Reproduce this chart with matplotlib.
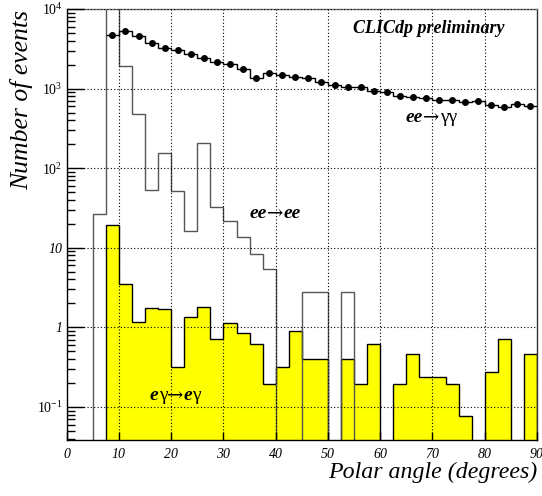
import numpy as np
import matplotlib
matplotlib.use('Agg')
import matplotlib.pyplot as plt
from matplotlib.ticker import FixedLocator, FixedFormatter, LogLocator, NullFormatter

plt.rcParams['font.family'] = 'Liberation Serif'
plt.rcParams['mathtext.fontset'] = 'custom'
plt.rcParams['mathtext.rm'] = 'Liberation Serif'
plt.rcParams['mathtext.it'] = 'Liberation Serif:italic'

# 36 bins of 2.5 degrees, 0 - 90
edges = np.linspace(0, 90, 37)

# ee -> ee (white histogram), 36 bins
ee_ee = [0, 0, 26.6, 30000, 1900, 473, 53, 157, 51, 16.4, 207, 32.8,
         21.9, 13.6, 8.24, 5.46, 0, 0, 2.79, 2.79, 0, 2.79, 0, 0,
         0, 0, 0, 0, 0, 0, 0, 0, 0, 0, 0, 0]

# e gamma -> e gamma (yellow histogram), 36 bins
eg_eg = [0, 0, 0, 19.4, 3.55, 1.17, 1.76, 1.69, 0.313, 1.36, 1.78, 0.708,
         1.14, 0.856, 0.624, 0.195, 0.313, 0.9, 0.398, 0.398, 0, 0.398, 0.195, 0.618,
         0, 0.195, 0.464, 0.237, 0.237, 0.195, 0.0763, 0, 0.274, 0.708, 0, 0.464]

# ee -> gamma gamma (points), bins from 7.5 to 90
ee_gg = [4680, 5360, 4600, 3790, 3280, 3010, 2710, 2410, 2175, 2030, 1778,
         1372, 1567, 1466, 1413, 1345, 1209, 1122, 1038, 1038, 944, 899,
         801, 790, 757, 714, 714, 688, 700, 613, 584, 649, 606]

xticks = [0, 10, 20, 30, 40, 50, 60, 70, 80, 90]
yticks = [0.1, 1, 10, 100, 1000, 10000]
ylabels = [r'$\mathit{10^{-1}}$', '1', '10', r'$\mathit{10^{2}}$',
           r'$\mathit{10^{3}}$', r'$\mathit{10^{4}}$']

W, H = 542, 496
fig = plt.figure(figsize=(W / 100, H / 100), dpi=100)
ax = fig.add_axes([66.7 / W, 1 - 440 / H, (537 - 66.7) / W, (440 - 9) / H])

floor = 1e-3
ax.stairs(np.clip(eg_eg, floor, None), edges, fill=True, color='#ffff00',
          baseline=floor, zorder=1)
ax.stairs(np.clip(eg_eg, floor, None), edges, color='black', lw=1.0,
          baseline=floor, zorder=1.5)
ax.stairs(np.clip(ee_ee, floor, None), edges, color='#555555', lw=1.0,
          baseline=floor, zorder=2)

gg_edges = edges[3:]
centers = 0.5 * (gg_edges[:-1] + gg_edges[1:])
ax.stairs(ee_gg, gg_edges, color='black', lw=1.0, baseline=None, zorder=3)
ax.plot(centers, ee_gg, 'o', color='black', ms=4, zorder=3.5)

ax.set_yscale('log')
ax.set_xlim(0, 90)
ax.set_ylim(0.0384, 10000)

ax.set_axisbelow(False)
ax.grid(True, which='major', linestyle=(0, (1, 2)), color='black', lw=0.8)

ax.xaxis.set_major_locator(FixedLocator(xticks))
ax.set_xticklabels([str(t) for t in xticks], fontstyle='italic', fontsize=10)
ax.yaxis.set_major_locator(FixedLocator(yticks))
ax.yaxis.set_major_formatter(FixedFormatter(ylabels))
ax.yaxis.set_minor_locator(LogLocator(base=10, subs=np.arange(2, 10)))
ax.yaxis.set_minor_formatter(NullFormatter())
for lab in ax.get_yticklabels():
    lab.set_fontstyle('italic')
    lab.set_fontsize(10)

ax.tick_params(axis='y', which='major', direction='in', length=12, width=1, pad=3)
ax.tick_params(axis='y', which='minor', direction='in', length=6, width=1)
ax.tick_params(axis='x', which='major', direction='in', length=6, width=1, pad=6)

for s in ax.spines.values():
    s.set_linewidth(1.0)
ax.spines['top'].set_color('#777777')
ax.spines['right'].set_color('#333333')

fig.text(537 / W, 1 - 478 / H, 'Polar angle (degrees)', ha='right', va='baseline',
         fontsize=17.2, fontstyle='italic')
fig.text(22 / W, 1 - 10 / H, 'Number of events', ha='center', va='top',
         rotation=90, fontsize=18.5, fontstyle='italic')

bold = dict(fontsize=14, fontstyle='italic', fontweight='bold', va='baseline',
            family='Liberation Serif')
thin = dict(fontsize=14, fontstyle='normal', fontweight='normal', va='baseline',
            family='Liberation Serif')
arr = dict(fontsize=14, fontstyle='normal', fontweight='normal', va='baseline',
           family='DejaVu Serif')
arrow = '\u2192'

fig.text(429 / W, 1 - 33 / H, 'CLICdp preliminary', ha='center',
         **dict(bold, fontsize=13))

renderer = fig.canvas.get_renderer()


def rich_text(x_px, y_px, parts):
    # draw pieces one after another along one baseline
    for s, kw in parts:
        t = fig.text(x_px / W, 1 - y_px / H, s, ha='left', **kw)
        x_px = t.get_window_extent(renderer).x1


rich_text(406, 122, [('ee', bold), (arrow, arr), ('\u03b3\u03b3', thin)])
rich_text(250, 218, [('ee', bold), (arrow, arr), ('ee', bold)])
rich_text(150, 400, [('e', bold), ('\u03b3', thin), (arrow, arr),
                     ('e', bold), ('\u03b3', thin)])

fig.savefig('out.png', dpi=100)
